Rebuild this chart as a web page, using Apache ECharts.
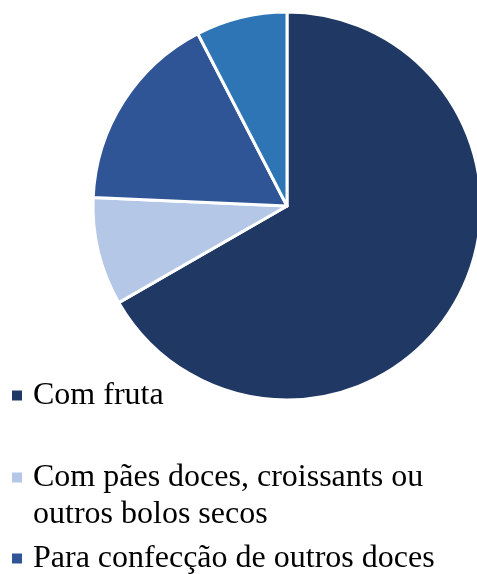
<!DOCTYPE html>
<html>
<head>
<meta charset="utf-8">
<script src="https://cdn.jsdelivr.net/npm/echarts@6/dist/echarts.min.js"></script>
<style>
  html, body { margin: 0; padding: 0; background: #ffffff; }
  #chart { width: 477px; height: 574px; }
</style>
</head>
<body>
<div id="chart"></div>
<script>
// Share of each use, in percent
const categories = [
  'Com fruta',
  'Com pães doces, croissants ou outros bolos secos',
  'Para confecção de outros doces',
  'Outros'
];
const values = [66.7, 9.0, 16.7, 7.6];
const colors = ['#203864', '#B4C7E7', '#2F5597', '#2E75B6'];

const serif = "'Liberation Serif', 'Times New Roman', serif";

const chart = echarts.init(document.getElementById('chart'), null, { renderer: 'canvas' });

function legendFor(name, top, formatter) {
  const opt = {
    data: [name],
    left: 10,
    top: top,
    orient: 'vertical',
    padding: 0,
    itemWidth: 12,
    itemHeight: 12,
    icon: 'rect',
    selectedMode: false,
    textStyle: {
      fontFamily: serif,
      fontSize: 32,
      color: '#000000',
      lineHeight: 37,
      padding: [0, 0, 0, 5]
    }
  };
  if (formatter) opt.formatter = formatter;
  return opt;
}

chart.setOption({
  animation: false,
  legend: [
    legendFor(categories[0], 377),
    // wrapped label: an empty first line keeps the marker beside the first text line
    legendFor(categories[1], 422, function () {
      return ' \nCom pães doces, croissants ou\noutros bolos secos';
    }),
    legendFor(categories[2], 540)
  ],
  series: [{
    type: 'pie',
    center: [287, 206],
    radius: 194,
    startAngle: 90,
    clockwise: true,
    silent: true,
    label: { show: false },
    labelLine: { show: false },
    itemStyle: { borderColor: '#ffffff', borderWidth: 3 },
    data: categories.map((c, i) => ({
      name: c,
      value: values[i],
      itemStyle: { color: colors[i] }
    }))
  }]
});
</script>
</body>
</html>
